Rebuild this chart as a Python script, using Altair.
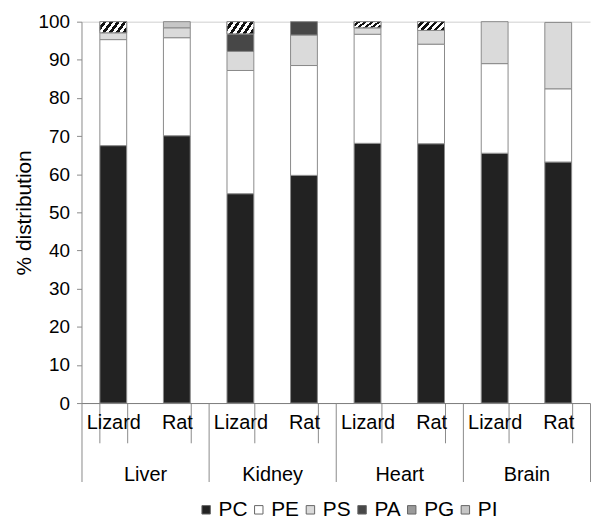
import altair as alt
import pandas as pd

organs = ["Liver", "Kidney", "Heart", "Brain"]
species = ["Lizard", "Rat"]
lipids = ["PC", "PE", "PS", "PA", "PG", "PI"]

# values per bar, order: Liver Lizard, Liver Rat, Kidney Lizard, Kidney Rat, Heart Lizard, Heart Rat, Brain Lizard, Brain Rat
PC = [67.5, 70.1, 54.9, 59.7, 68.1, 68.0, 65.5, 63.2]
PE = [27.8, 25.7, 32.3, 28.8, 28.6, 26.1, 23.5, 19.2]
PS = [1.8, 2.6, 5.0, 8.0, 1.7, 3.6, 11.0, 17.4]
PA = [0.0, 0.0, 4.6, 3.5, 0.0, 0.0, 0.0, 0.0]
PG = [2.9, 0.0, 3.2, 0.0, 1.6, 2.3, 0.0, 0.0]
PI = [0.0, 1.6, 0.0, 0.0, 0.0, 0.0, 0.0, 0.0]
y_ticks = [0, 10, 20, 30, 40, 50, 60, 70, 80, 90, 100]

series = {"PC": PC, "PE": PE, "PS": PS, "PA": PA, "PG": PG, "PI": PI}
colors = ["#222222", "#ffffff", "#dadada", "#474747", "#9a9a9a", "#c6c6c6"]

keys = [f"{o}|{s}" for o in organs for s in species]
rows = []
for i, k in enumerate(keys):
    for j, lp in enumerate(lipids):
        rows.append({"key": k, "lipid": lp, "order": j, "value": series[lp][i]})
df = pd.DataFrame(rows)
organ_df = pd.DataFrame({"organ": organs})

FONT = "Liberation Sans"
W, H = 512, 384

x_scale = alt.Scale(domain=keys, paddingInner=0.578, paddingOuter=0.289)
y_scale = alt.Scale(domain=[0, 100], nice=False)
# tickCount must not be smaller than the number of values, otherwise Vega thins them out
y_axis = alt.Axis(
    values=y_ticks, tickCount=len(y_ticks) + 1, labelOverlap=False, tickSize=5, tickColor="#8a8a8a",
    domainColor="#8a8a8a", labelPadding=7, labelFontSize=19, labelColor="black",
    title="% distribution", titleFontSize=21, titleFontWeight="normal", titleColor="black",
    titlePadding=4, grid=True, gridColor="#cfcfcf",
    gridOpacity={"condition": {"test": "datum.value === 100", "value": 1}, "value": 0},
)

base = (
    alt.Chart(df)
    .transform_filter("datum.value > 0")
    .transform_stack(stack="value", groupby=["key"], sort=[alt.SortField("order", order="ascending")], as_=["y0", "y1"])
)

bars = base.mark_bar(stroke="#8a8a8a", strokeWidth=1).encode(
    x=alt.X(
        "key:N",
        scale=x_scale,
        sort=keys,
        axis=alt.Axis(
            title=None, orient="bottom", tickBand="extent", tickSize=40, tickColor="#8a8a8a",
            domainColor="#7a7a7a", labelPadding=-30, labelFontSize=20, labelAngle=0,
            labelColor="black", labelExpr="split(datum.label, '|')[1]", grid=False,
        ),
    ),
    y=alt.Y("y0:Q", scale=y_scale, axis=y_axis),
    y2="y1:Q",
    color=alt.Color(
        "lipid:N",
        scale=alt.Scale(domain=lipids, range=colors),
        sort=lipids,
        legend=alt.Legend(
            orient="none", legendX=115, legendY=481, direction="horizontal", title=None,
            symbolType="square", symbolSize=72, symbolStrokeColor="#666666", symbolStrokeWidth=1,
            labelFontSize=21, labelOffset=2, columnPadding=0, gridAlign="none", labelColor="black",
        ),
    ),
)

stops = []
n = 5
for k in range(n):
    a = k / n
    stops += [
        alt.GradientStop(offset=a, color="white"),
        alt.GradientStop(offset=a + 0.5 / n, color="white"),
        alt.GradientStop(offset=a + 0.5 / n, color="#111111"),
        alt.GradientStop(offset=a + 1.0 / n, color="#111111"),
    ]
hatch = alt.LinearGradient(gradient="linear", stops=stops, x1=0, y1=0, x2=1.15, y2=0.35)

overlay = base.transform_filter("datum.lipid == 'PG'").mark_bar(
    fill=hatch, stroke="#8a8a8a", strokeWidth=1
).encode(
    x=alt.X("key:N", scale=x_scale, sort=keys, axis=None),
    y=alt.Y("y0:Q", scale=y_scale, axis=y_axis),
    y2="y1:Q",
)

organ_axis = alt.Chart(organ_df).mark_bar(opacity=0).encode(
    x=alt.X(
        "organ:N",
        sort=organs,
        scale=alt.Scale(domain=organs, paddingInner=0, paddingOuter=0),
        axis=alt.Axis(
            title=None, orient="bottom", tickBand="extent", tickSize=79, tickColor="#8a8a8a",
            domain=False, labelPadding=-17, labelFontSize=20, labelAngle=0, labelColor="black", grid=False,
        ),
    )
)

chart = (
    alt.layer(bars, overlay, organ_axis)
    .resolve_scale(x="independent")
    .properties(width=W, height=H, padding={"left": 5, "top": 3, "right": 0, "bottom": 0})
    .configure(font=FONT)
    .configure_view(stroke=None)
)

chart.save("out.html", embed_options={"renderer": "svg", "actions": False})
